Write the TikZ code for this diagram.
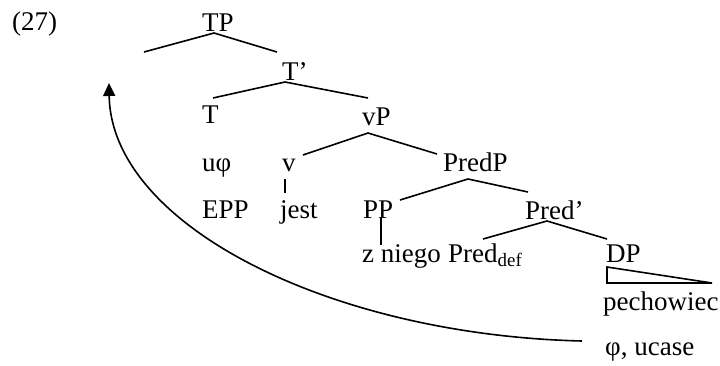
\documentclass[tikz,border=0pt]{standalone}
\usepackage{fontspec}
\setmainfont{Liberation Serif}
\usetikzlibrary{arrows.meta}
\begin{document}
\begin{tikzpicture}[x=1pt,y=-1pt,
  lab/.style={anchor=base west,inner sep=0pt,font=\fontsize{27}{30}\selectfont},
  br/.style={line width=1.6pt},
  mv/.style={line width=1.6pt,-{Triangle[length=13pt,width=12pt]}}]
\useasboundingbox (0,0) rectangle (720,365);
% labels
\node[lab] (ex) at (12,30) {(27)};
\node[lab] (tp) at (202,31) {TP};
\node[lab] (tbar) at (282,80) {T’};
\node[lab] (t) at (202,123) {T};
\node[lab] (vp) at (362,125) {vP};
\node[lab] (uphi) at (202,171) {uφ};
\node[lab] (v) at (282,171) {v};
\node[lab] (predp) at (443,171) {PredP};
\node[lab] (epp) at (202,218) {EPP};
\node[lab] (jest) at (280,218) {jest};
\node[lab] (pp) at (363,218) {PP};
\node[lab] (predbar) at (525,219) {Pred’};
\node[lab] (zniego) at (362,262) {z niego};
\node[lab] (preddef) at (448,262) {Pred\textsubscript{def}};
\node[lab] (dp) at (606,262) {DP};
\node[lab] (pech) at (603,310) {pechowiec};
\node[lab] (phi) at (605,355) {φ, ucase};
% branch points
\coordinate (tpA) at (214,33);
\coordinate (tpL) at (144,52);
\coordinate (tpR) at (277,52);
\coordinate (tbA) at (285,82);
\coordinate (tbL) at (213,98);
\coordinate (tbR) at (368,98);
\coordinate (vpA) at (368,133);
\coordinate (vpL) at (303,155);
\coordinate (vpR) at (437,154);
\coordinate (vT) at (285,179);
\coordinate (vB) at (285,193);
\coordinate (ppA) at (468,179);
\coordinate (ppL) at (400,200);
\coordinate (ppR) at (528,192);
\coordinate (pT) at (381,218);
\coordinate (pB) at (381,245);
\coordinate (pbA) at (547,221);
\coordinate (pbL) at (483,239);
\coordinate (pbR) at (607,239);
\coordinate (tr1) at (607,267);
\coordinate (tr2) at (607,283);
\coordinate (tr3) at (712,283);
\coordinate (mvS) at (582,341);
\coordinate (mvE) at (109,83);
% branches
\draw[br] (tpL) -- (tpA) -- (tpR);
\draw[br] (tbL) -- (tbA) -- (tbR);
\draw[br] (vpL) -- (vpA) -- (vpR);
\draw[br] (vT) -- (vB);
\draw[br] (ppL) -- (ppA) -- (ppR);
\draw[br] (pT) -- (pB);
\draw[br] (pbL) -- (pbA) -- (pbR);
\draw[br,line join=miter] (tr1) -- (tr2) -- (tr3) -- cycle;
% movement arrow
\draw[mv] (mvS) .. controls (330,335) and (111,225) .. (mvE);
\end{tikzpicture}
\end{document}
